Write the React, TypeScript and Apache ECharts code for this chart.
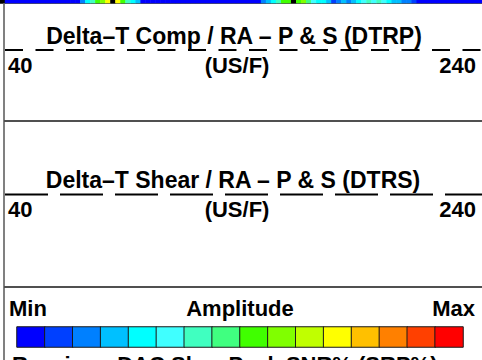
import React, { useEffect, useRef } from "react";
import * as echarts from "echarts";

// Amplitude colour scale (Min -> Max), 16 classes
const scaleColors = [
  "#0000ff", "#0040ff", "#0080ff", "#00c0ff",
  "#00ffff", "#40ffff", "#40ffc0", "#40ff80",
  "#40ff00", "#80ff00", "#c0ff00", "#ffff00",
  "#ffc000", "#ff8000", "#ff4000", "#ff0000",
];
const scaleClasses = scaleColors.map((_, i) => i);

// Top image strip: colour class per 5px cell (-1 = black marker)
const stripValues = [
  -1, 0, 0, 0, 0, 0, 0, 0, 0, 0, 0, 0, 0, 0, 0, 0,
  2, 4, 6, 8, 9, 11, -1, 11, 8, 6, 4, 3, 0, 0, 0, 0,
  0, 0, 0, 0, 0, 0, 0, 0, 0, 0, 0, 0, 0, 0, 0, 0,
  0, 0, 0, 0, 2, 3, 4, 6, 8, 8, -1, 8, 9, 7, 5, 4,
  4, 3, 1, 2, 3, 2, 3, 4, 5, 6, 5, 6, 5, 4, 3, 3,
  2, 2, 1, 0, 0, 0, 0, 0, 0, 0, 0, 0, 0, 0, 0, 0,
];

const track1Title = "Delta\u2013T Comp / RA \u2013 P & S (DTRP)";
const track2Title = "Delta\u2013T Shear / RA \u2013 P & S (DTRS)";
const trackUnit = "(US/F)";
const trackMin = "40";
const trackMax = "240";
const legendLeft = "Min";
const legendCenter = "Amplitude";
const legendRight = "Max";
const bottomText = "Receiver: DAC Slow Peak SNR% (SRP%)";

const FONT = "'Liberation Sans', Arial, Helvetica, sans-serif";

export default function App() {
  const ref = useRef<HTMLDivElement>(null);
  useEffect(() => {
    if (!ref.current) return;
    const chart = echarts.init(ref.current, undefined, { renderer: "svg" });
    const txt = (text: string, x: number, y: number, align: string, size = 22) => ({
      type: "text",
      x,
      y,
      style: {
        text,
        fill: "#000",
        font: `bold ${size}px ${FONT}`,
        textAlign: align,
        textVerticalAlign: "middle",
      },
    });
    const hline = (y: number, x1: number, x2: number, stroke: string, w: number, dash?: number[]) => ({
      type: "line",
      shape: { x1, y1: y, x2, y2: y },
      style: { stroke, lineWidth: w, lineDash: dash },
    });
    const pieces = [
      { value: -1, color: "#000000" },
      ...scaleClasses.map((v) => ({ value: v, color: scaleColors[v] })),
    ];
    chart.setOption({
      animation: false,
      backgroundColor: "#ffffff",
      grid: [
        { left: 0, top: 0, width: 482, height: 3 },
        { left: 17, top: 327, width: 446, height: 20 },
      ],
      xAxis: [
        { type: "category", gridIndex: 0, data: stripValues.map((_, i) => i), show: false },
        { type: "category", gridIndex: 1, data: scaleClasses, show: false },
      ],
      yAxis: [
        { type: "category", gridIndex: 0, data: ["s"], show: false },
        { type: "category", gridIndex: 1, data: ["c"], show: false },
      ],
      visualMap: {
        type: "piecewise",
        show: false,
        dimension: 2,
        seriesIndex: [0, 1],
        pieces,
      },
      series: [
        {
          type: "heatmap",
          xAxisIndex: 0,
          yAxisIndex: 0,
          data: stripValues.map((v, i) => [i, 0, v]),
          itemStyle: { borderWidth: 0 },
        },
        {
          type: "heatmap",
          xAxisIndex: 1,
          yAxisIndex: 1,
          data: scaleClasses.map((v, i) => [i, 0, v]),
          itemStyle: { borderColor: "#1a1a1a", borderWidth: 1 },
        },
      ],
      graphic: [
        hline(3.5, 0, 482, "#555555", 1),
        { type: "line", shape: { x1: 4, y1: 3, x2: 4, y2: 360 }, style: { stroke: "#808080", lineWidth: 2 } },
        hline(121, 4, 482, "#505050", 2),
        hline(287, 4, 482, "#505050", 2),
        // track 1
        txt(track1Title, 234, 36, "center", 23),
        hline(50, 5, 482, "#000", 2, [18, 12.5]),
        txt(trackMin, 8, 65, "left"),
        txt(trackUnit, 237, 65, "center"),
        txt(trackMax, 476, 65, "right"),
        // track 2
        txt(track2Title, 233, 180, "center", 23),
        hline(194.5, 5, 482, "#000", 2, [43, 12]),
        txt(trackMin, 8, 209, "left"),
        txt(trackUnit, 237, 209, "center"),
        txt(trackMax, 476, 209, "right"),
        // legend
        txt(legendLeft, 9, 308, "left", 22),
        txt(legendCenter, 240, 308, "center", 22),
        txt(legendRight, 475, 308, "right", 22),
        {
          type: "text",
          x: 12,
          y: 353,
          style: { text: bottomText, fill: "#000", font: `bold 22px ${FONT}`, textAlign: "left", textVerticalAlign: "top" },
        },
      ],
    });
    return () => chart.dispose();
  }, []);
  return <div ref={ref} style={{ width: 482, height: 360, position: "absolute", left: 0, top: 0 }} />;
}
